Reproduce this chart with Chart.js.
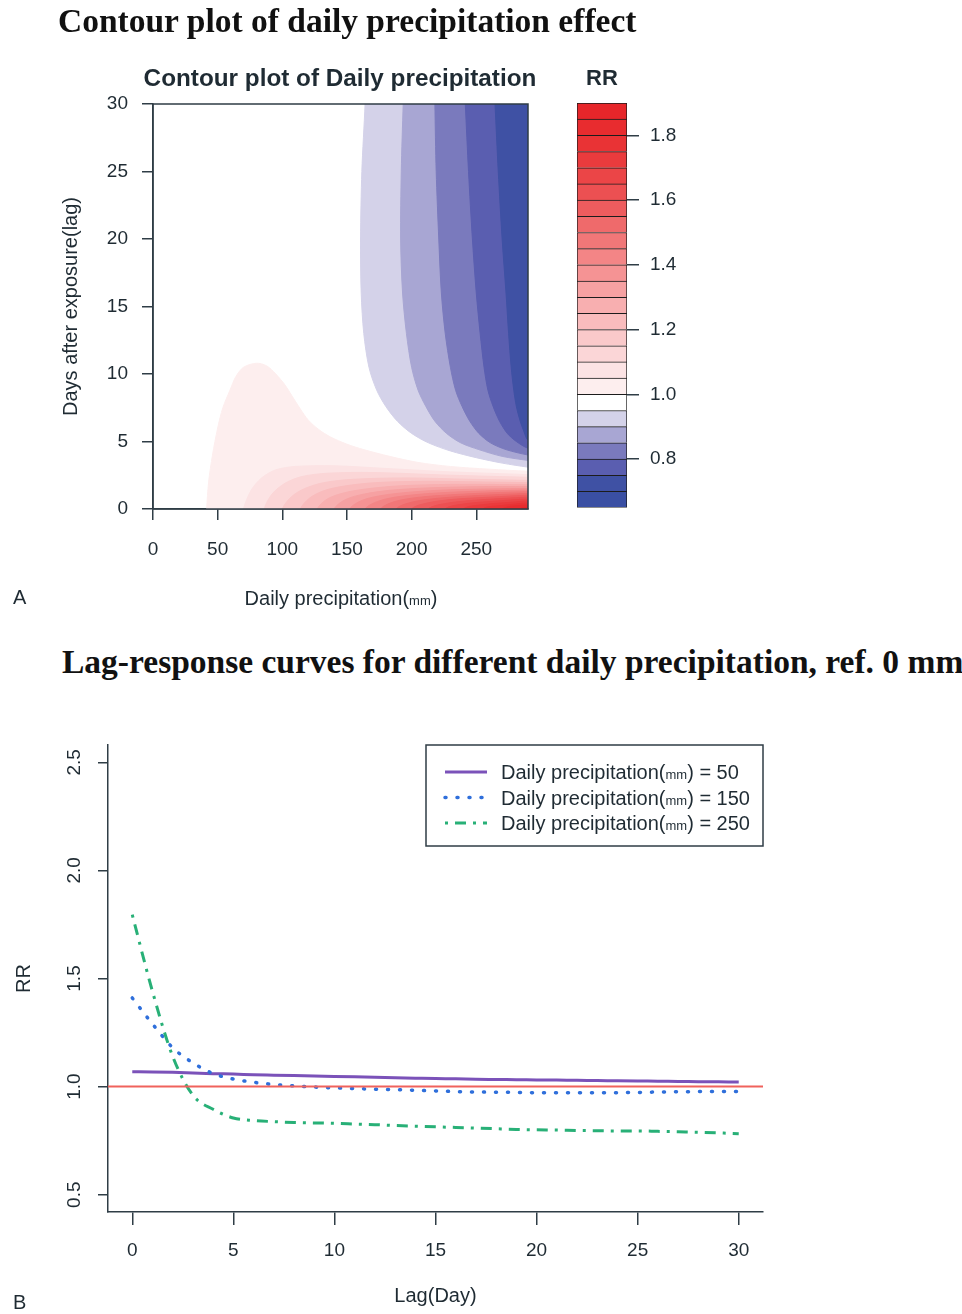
<!DOCTYPE html>
<html>
<head>
<meta charset="utf-8">
<title>Daily precipitation effect</title>
<script src="https://cdn.jsdelivr.net/npm/chart.js@4.4.1/dist/chart.umd.min.js"></script>
<style>
  html, body { margin: 0; padding: 0; background: #fff; }
  #page { position: relative; width: 962px; height: 1314px; overflow: hidden;
          font-family: "Liberation Sans", Arial, Helvetica, sans-serif; color: #1f2b33; }
  canvas { position: absolute; }
  .t { position: absolute; white-space: nowrap; line-height: 1; }
  .serif { font-family: "Liberation Serif", "Times New Roman", serif; font-weight: bold; font-size: 33.5px; color: #111; }
  .c { text-align: center; }
  .sm { font-size: 13px; }
</style>
</head>
<body>
<div id="page">
  <canvas id="chartContour" width="560" height="640" style="left:0;top:0"></canvas>
  <canvas id="chartKey" width="160" height="470" style="left:560px;top:60px"></canvas>
  <canvas id="chartLag" width="962" height="614" style="left:0;top:700px"></canvas>

  <div class="t serif" style="left:58px;top:4px">Contour plot of daily precipitation effect</div>
  <div class="t c" style="left:90px;width:500px;top:66px;font-weight:bold;font-size:24.3px">Contour plot of Daily precipitation</div>
  <div class="t c" style="left:562px;width:80px;top:67px;font-weight:bold;font-size:22px">RR</div>
  <div class="t c" style="left:141px;width:400px;top:588px;font-size:20px">Daily precipitation(<span class="sm">mm</span>)</div>
  <div class="t" style="left:13px;top:587px;font-size:20px">A</div>

  <div class="t serif" style="left:62px;top:645px">Lag-response curves for different daily precipitation, ref. 0 mm</div>
  <div class="t" style="left:13px;top:1292px;font-size:20px">B</div>
</div>

<script>
// ======== Panel A: contour lines, points are [daily precipitation (mm), lag (day)] ========
const precipTicks = [0, 50, 100, 150, 200, 250];
const lagTicksA = [0, 5, 10, 15, 20, 25, 30];

// blue side (RR below the level), read from top edge down to the right edge
const rr095 = [[164,31],[164,30],[161.5,25],[160.5,20],[161,16],[163,13],[167,10.5],[173,8.8],[180,7.6],[189,6.5],[200,5.6],[213,4.9],[230,4.3],[250,3.8],[270,3.4],[290,3.1],[300,3.0]];
const rr090 = [[194,31],[193.5,30],[192,25],[191.5,20],[193,16],[196,13],[200,10.5],[205,8.8],[211,7.6],[218,6.5],[227,5.6],[238,4.9],[252,4.4],[270,3.9],[290,3.6],[300,3.5]];
const rr085 = [[218,31],[218,30],[219,25],[221,20],[223,16],[226,13],[230,10.5],[234,8.8],[239,7.6],[245,6.5],[252,5.6],[261,4.9],[273,4.4],[290,4.0],[300,3.9]];
const rr080 = [[241,31],[241.5,30],[244,25],[247,20],[250,16],[253,13],[256,10.5],[259,8.8],[263,7.6],[268,6.5],[274,5.6],[281,5.0],[290,4.5],[300,4.4]];
const rr075 = [[264,31],[264.5,30],[267,25],[270,20],[273,16],[275,13],[277,10.5],[279,8.8],[281,7.6],[284,6.5],[287,5.7],[290,5.1],[300,4.9]];

// red side (RR above the level), read from the bottom edge up to the right edge
const rr100 = [[41.5,0],[43,2],[46,4],[50,6],[54,7.5],[59.5,8.8],[64,9.8],[70,10.5],[80,10.8],[88,10.6],[95,10],[102,9.2],[108,8.3],[114,7.4],[120,6.6],[128,5.9],[137,5.35],[150,4.8],[163,4.4],[183,3.9],[205,3.45],[230,3.15],[260,2.95],[290,2.8]];
const rr105 = [[70,0],[76,1.4],[84,2.3],[95,2.9],[110,3.15],[140,3.2],[180,3.0],[230,2.75],[290,2.55]];
const rr110 = [[86,0],[92,1.1],[102,1.9],[115,2.4],[135,2.65],[170,2.7],[230,2.5],[290,2.35]];
const rr115 = [[100,0],[107,0.9],[117,1.5],[132,1.95],[155,2.2],[195,2.3],[245,2.2],[290,2.12]];
const rr120 = [[114,0],[121,0.8],[132,1.35],[148,1.7],[172,1.95],[210,2.05],[255,2.0],[290,1.95]];
const rr125 = [[127,0],[135,0.75],[148,1.2],[166,1.5],[192,1.72],[230,1.82],[290,1.8]];
const rr130 = [[140,0],[149,0.7],[163,1.1],[183,1.38],[212,1.56],[250,1.65],[290,1.66]];
const rr135 = [[152,0],[162,0.65],[177,1.0],[199,1.25],[230,1.42],[290,1.52]];
const rr140 = [[164,0],[175,0.6],[191,0.93],[214,1.15],[246,1.3],[290,1.4]];
const rr145 = [[176,0],[187,0.55],[205,0.86],[230,1.05],[262,1.2],[290,1.28]];
const rr150 = [[188,0],[200,0.5],[219,0.78],[246,0.97],[290,1.15]];
const rr155 = [[200,0],[213,0.46],[233,0.72],[261,0.88],[290,1.02]];
const rr160 = [[213,0],[227,0.42],[248,0.64],[290,0.88]];
const rr165 = [[226,0],[241,0.38],[263,0.57],[290,0.74]];
const rr170 = [[240,0],[256,0.33],[277,0.5],[290,0.6]];
const rr175 = [[255,0],[271,0.27],[290,0.45]];
const rr180 = [[270,0],[290,0.3]];
const rr185 = [[284,0],[290,0.12]];

// colour key: band edges (bottom -> top) and the colour of each band
const keyBreaks = [0.65,0.70,0.75,0.80,0.85,0.90,0.95,1.00,1.05,1.10,1.15,1.20,1.25,1.30,1.35,1.40,1.45,1.50,1.55,1.60,1.65,1.70,1.75,1.80,1.85,1.90];
const keyColors = ['#3a4fa3','#3f51a4','#5a5eb0','#7a7abd','#a8a6d3','#d4d2e9','#ffffff','#fdeeee','#fce3e4','#fbd6d7','#fac9ca','#f9bcbd','#f8afb0','#f6a1a2','#f59394','#f38586','#f17778','#ef6a6b','#ee5c5e','#ec5052','#eb4547','#ea3b3d','#e93335','#e82c2f','#e7262a'];
const keyTicks = [0.8, 1.0, 1.2, 1.4, 1.6, 1.8];

// ======== Panel B: lag-response curves ========
const lagDays = [0,1,2,3,4,5,6,7,8,9,10,11,12,13,14,15,16,17,18,19,20,21,22,23,24,25,26,27,28,29,30];
const rrAt50 = [1.069,1.068,1.066,1.063,1.060,1.058,1.055,1.053,1.051,1.049,1.047,1.045,1.043,1.041,1.039,1.037,1.036,1.034,1.033,1.032,1.031,1.030,1.029,1.028,1.027,1.026,1.025,1.024,1.023,1.022,1.021];
const rrAt150 = [1.41,1.29,1.18,1.11,1.06,1.035,1.02,1.01,1.003,0.998,0.994,0.991,0.988,0.986,0.983,0.980,0.977,0.975,0.974,0.973,0.972,0.972,0.972,0.972,0.972,0.973,0.975,0.976,0.977,0.977,0.977];
const rrAt250 = [1.795,1.44,1.14,0.96,0.895,0.855,0.843,0.838,0.834,0.832,0.830,0.827,0.824,0.820,0.817,0.814,0.811,0.808,0.805,0.802,0.800,0.799,0.797,0.796,0.795,0.795,0.793,0.791,0.789,0.786,0.782];
const lagTicksB = [0, 5, 10, 15, 20, 25, 30];
const rrTicksB = [0.5, 1.0, 1.5, 2.0, 2.5];
const refRR = 1;

// ======== common look ========
const axisCol = '#2f3d46';
const textCol = '#1f2b33';
const fontFam = '"Liberation Sans", Arial, Helvetica, sans-serif';
Chart.defaults.font.family = fontFam;
Chart.defaults.color = textCol;

const fixTicks = (vals) => (s) => { s.ticks = vals.map(v => ({ value: v })); };

// ======== A: filled contour ========
(function () {
  const PAD_X = 300, PAD_LO = -1, PAD_HI = 31; // closing corners just outside the plot
  const bandColor = (lo) => keyColors[Math.round((lo - keyBreaks[0]) / 0.05)];

  const blue = [[0.95, rr095], [0.90, rr090], [0.85, rr085], [0.80, rr080], [0.75, rr075]];
  const red = [[1.00, rr100], [1.05, rr105], [1.10, rr110], [1.15, rr115], [1.20, rr120], [1.25, rr125],
               [1.30, rr130], [1.35, rr135], [1.40, rr140], [1.45, rr145], [1.50, rr150], [1.55, rr155],
               [1.60, rr160], [1.65, rr165], [1.70, rr170], [1.75, rr175], [1.80, rr180], [1.85, rr185]];

  const seq = [];
  blue.forEach(([lvl, pts]) => seq.push({ color: bandColor(lvl - 0.05), poly: [[PAD_X, PAD_HI], ...pts] }));
  red.forEach(([lvl, pts]) => {
    const a = pts[0], b = pts[pts.length - 1];
    seq.push({ color: bandColor(lvl), poly: [[PAD_X, PAD_LO], [a[0], PAD_LO], ...pts, [PAD_X, b[1]]] });
  });

  const datasets = seq.map((c, i) => ({
    data: c.poly.map(p => ({ x: p[0], y: p[1] })),
    backgroundColor: c.color,
    borderColor: c.color,
    borderWidth: 1,
    pointRadius: 0,
    tension: 0.3,
    fill: 'shape',
    order: seq.length - i,
  }));

  // box round the plot region, drawn last so it sits over the filled bands
  const frameBox = {
    id: 'frameBox',
    afterDraw(chart) {
      const { ctx, chartArea: a } = chart;
      ctx.save();
      ctx.strokeStyle = axisCol;
      ctx.lineWidth = 1.5;
      ctx.strokeRect(a.left, a.top, a.right - a.left, a.bottom - a.top);
      ctx.restore();
    },
  };

  new Chart(document.getElementById('chartContour'), {
    type: 'line',
    data: { datasets },
    plugins: [frameBox],
    options: {
      responsive: false,
      animation: false,
      events: [],
      layout: { padding: { left: 0, right: 32, top: 104, bottom: 21 } },
      plugins: { legend: { display: false }, tooltip: { enabled: false } },
      scales: {
        x: {
          type: 'linear', min: 0, max: 290,
          afterBuildTicks: fixTicks(precipTicks),
          afterFit: (s) => { s.height = 110; },
          grid: { drawOnChartArea: false, tickLength: 11, color: axisCol, lineWidth: 1.5 },
          border: { color: axisCol, width: 1.5 },
          ticks: { padding: 18, font: { size: 19 }, color: textCol, maxRotation: 0, autoSkip: false },
        },
        y: {
          type: 'linear', min: 0, max: 30,
          afterBuildTicks: fixTicks(lagTicksA),
          afterFit: (s) => { s.width = 153; },
          grid: { drawOnChartArea: false, tickLength: 11, color: axisCol, lineWidth: 1.5 },
          border: { color: axisCol, width: 1.5 },
          ticks: { padding: 14, font: { size: 19 }, color: textCol, autoSkip: false },
          title: { display: true, text: 'Days after exposure(lag)', font: { size: 20 }, color: textCol, padding: { top: 59, bottom: 0 } },
        },
      },
    },
  });
})();

// ======== A: colour key ========
(function () {
  const datasets = keyColors.map((c, i) => ({
    data: [[keyBreaks[i], keyBreaks[i + 1]]],
    backgroundColor: c,
    borderColor: '#1c1c1c',
    borderWidth: { top: 1, left: 1, right: 1, bottom: i === 0 ? 1 : 0 },
    borderSkipped: false,
    grouped: false,
    barPercentage: 1,
    categoryPercentage: 1,
  }));

  new Chart(document.getElementById('chartKey'), {
    type: 'bar',
    data: { labels: ['RR'], datasets },
    options: {
      responsive: false,
      animation: false,
      events: [],
      layout: { padding: { left: 17, right: 0, top: 43, bottom: 22 } },
      plugins: { legend: { display: false }, tooltip: { enabled: false } },
      scales: {
        x: { display: false },
        y: {
          position: 'right', min: 0.65, max: 1.9,
          afterBuildTicks: fixTicks(keyTicks),
          afterFit: (s) => { s.width = 93; },
          grid: { drawOnChartArea: false, tickLength: 12, color: axisCol, lineWidth: 1.5 },
          border: { display: false },
          ticks: { padding: 11, font: { size: 19 }, color: textCol, callback: (v) => Number(v).toFixed(1) },
        },
      },
    },
  });
})();

// ======== B: lag-response curves ========
(function () {
  const toXY = (vals) => lagDays.map((d, i) => ({ x: d, y: vals[i] }));
  const LAG_MIN = -1.2, LAG_MAX = 31.2;

  const rotatedYTicks = {
    id: 'rotatedYTicks',
    afterDraw(chart) {
      const y = chart.scales.y, ctx = chart.ctx;
      ctx.save();
      ctx.font = '19px ' + fontFam;
      ctx.fillStyle = textCol;
      ctx.textAlign = 'center';
      ctx.textBaseline = 'middle';
      y.ticks.forEach((t) => {
        ctx.save();
        ctx.translate(y.right - 33, y.getPixelForValue(t.value));
        ctx.rotate(-Math.PI / 2);
        ctx.fillText(Number(t.value).toFixed(1), 0, 0);
        ctx.restore();
      });
      ctx.restore();
    },
  };

  const boxLegend = {
    id: 'boxLegend',
    afterDraw(chart) {
      const { ctx, chartArea: a } = chart;
      const w = 337, h = 101, left = a.right - w, top = a.top;
      ctx.save();
      ctx.fillStyle = '#fff';
      ctx.fillRect(left, top, w, h);
      ctx.strokeStyle = axisCol;
      ctx.lineWidth = 1.5;
      ctx.strokeRect(left, top, w, h);
      chart.data.datasets.filter((d) => d.inLegend).forEach((d, i) => {
        const yy = top + 27 + i * 25.5;
        ctx.beginPath();
        ctx.setLineDash(d.borderDash || []);
        ctx.lineCap = d.borderCapStyle || 'butt';
        ctx.lineWidth = d.borderWidth;
        ctx.strokeStyle = d.borderColor;
        ctx.moveTo(left + 19, yy);
        ctx.lineTo(left + 61, yy);
        ctx.stroke();
        ctx.setLineDash([]);
        ctx.fillStyle = textCol;
        ctx.textAlign = 'left';
        ctx.textBaseline = 'alphabetic';
        const parts = d.label.split('mm');
        const base = yy + 7;
        let x = left + 75;
        ctx.font = '20px ' + fontFam;
        ctx.fillText(parts[0], x, base);
        x += ctx.measureText(parts[0]).width;
        ctx.font = '13px ' + fontFam;
        ctx.fillText('mm', x, base);
        x += ctx.measureText('mm').width;
        ctx.font = '20px ' + fontFam;
        ctx.fillText(parts[1], x, base);
      });
      ctx.restore();
    },
  };

  new Chart(document.getElementById('chartLag'), {
    type: 'line',
    data: {
      datasets: [
        {
          label: 'ref',
          data: [{ x: LAG_MIN, y: refRR }, { x: LAG_MAX, y: refRR }],
          borderColor: '#f0625c', borderWidth: 2, pointRadius: 0, order: 0,
        },
        {
          label: 'Daily precipitation(mm) = 50', inLegend: true,
          data: toXY(rrAt50),
          borderColor: '#7b52b9', borderWidth: 3, pointRadius: 0,
          cubicInterpolationMode: 'monotone', order: 3,
        },
        {
          label: 'Daily precipitation(mm) = 150', inLegend: true,
          data: toXY(rrAt150),
          borderColor: '#2f6fdb', borderWidth: 3.5, borderDash: [1, 11], borderCapStyle: 'round',
          pointRadius: 0, cubicInterpolationMode: 'monotone', order: 2,
        },
        {
          label: 'Daily precipitation(mm) = 250', inLegend: true,
          data: toXY(rrAt250),
          borderColor: '#28b077', borderWidth: 3, borderDash: [3, 7, 11, 7],
          pointRadius: 0, cubicInterpolationMode: 'monotone', order: 1,
        },
      ],
    },
    plugins: [rotatedYTicks, boxLegend],
    options: {
      responsive: false,
      animation: false,
      events: [],
      layout: { padding: { left: 0, right: 199, top: 45, bottom: 0 } },
      plugins: { legend: { display: false }, tooltip: { enabled: false } },
      scales: {
        x: {
          type: 'linear', min: LAG_MIN, max: LAG_MAX,
          afterBuildTicks: fixTicks(lagTicksB),
          afterFit: (s) => { s.height = 102; },
          grid: { drawOnChartArea: false, tickLength: 13, color: axisCol, lineWidth: 1.5 },
          border: { color: axisCol, width: 1.5 },
          ticks: { padding: 14, font: { size: 19 }, color: textCol, maxRotation: 0, autoSkip: false },
          title: { display: true, text: 'Lag(Day)', font: { size: 20 }, color: textCol, padding: { top: 0, bottom: 6 } },
        },
        y: {
          type: 'linear', min: 0.42, max: 2.58,
          afterBuildTicks: fixTicks(rrTicksB),
          afterFit: (s) => { s.width = 108; },
          grid: { drawOnChartArea: false, tickLength: 10, color: axisCol, lineWidth: 1.5 },
          border: { color: axisCol, width: 1.5 },
          ticks: { display: false },
          title: { display: true, text: 'RR', font: { size: 20 }, color: textCol, padding: { top: 12, bottom: 0 } },
        },
      },
    },
  });
})();
</script>
</body>
</html>
